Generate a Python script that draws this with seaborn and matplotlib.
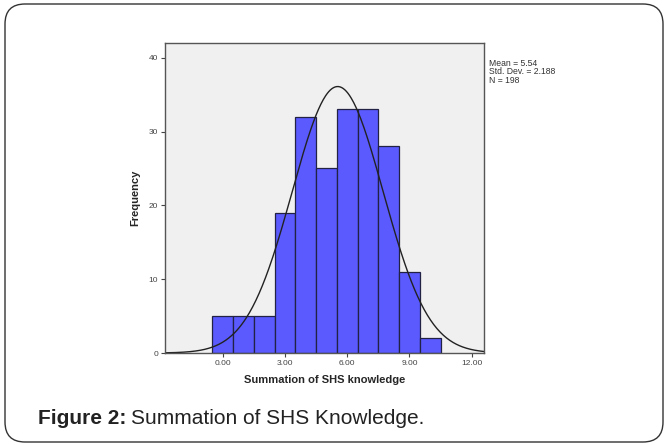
import numpy as np
import pandas as pd
import seaborn as sns
import matplotlib
matplotlib.use("Agg")
import matplotlib.pyplot as plt
from matplotlib.patches import FancyBboxPatch

# Data
scores = [0, 1, 2, 3, 4, 5, 6, 7, 8, 9, 10]
counts = [5, 5, 5, 19, 32, 25, 33, 33, 28, 11, 2]
mean_val = 5.54
sd_val = 2.188
n_val = 198
x_ticks = [0, 3, 6, 9, 12]
x_tick_labels = ["0.00", "3.00", "6.00", "9.00", "12.00"]
y_ticks = [0, 10, 20, 30, 40]

sns.set_style("white")
plt.rcParams['font.family'] = ['Liberation Sans', 'DejaVu Sans']

fig = plt.figure(figsize=(6.67, 4.45), dpi=100)
fig.patch.set_facecolor("white")

# rounded outer frame
frame = FancyBboxPatch((5 / 667, 3 / 445), 658 / 667, 438 / 445,
                       boxstyle="round,pad=0,rounding_size=0.03",
                       transform=fig.transFigure, fill=False,
                       edgecolor="#333333", linewidth=1.0,
                       mutation_aspect=667 / 445)
fig.patches.append(frame)

ax = fig.add_axes([165 / 667, 1 - 353 / 445, (484 - 165) / 667, (353 - 43) / 445])
ax.set_facecolor("#f0f0f0")

df = pd.DataFrame({"score": scores, "count": counts})
sns.histplot(data=df, x="score", weights="count", discrete=True, ax=ax,
             color="#5a5aff", alpha=1.0, edgecolor="#222244", linewidth=0.9)

# normal curve overlay
xs = np.linspace(-2.8, 12.6, 400)
ys = n_val * 1.0 / (sd_val * np.sqrt(2 * np.pi)) * np.exp(-0.5 * ((xs - mean_val) / sd_val) ** 2)
sns.lineplot(x=xs, y=ys, ax=ax, color="#222222", linewidth=1.0)

ax.set_xlim(-2.78, 12.59)
ax.set_ylim(0, 42)
ax.set_xticks(x_ticks)
ax.set_xticklabels(x_tick_labels)
ax.set_yticks(y_ticks)
ax.tick_params(axis="both", direction="out", length=3, width=0.8,
               labelsize=6, colors="#444444", pad=2, bottom=True, left=True)
for s in ax.spines.values():
    s.set_color("#555555")
    s.set_linewidth(1.0)

ax.set_xlabel("Summation of SHS knowledge", fontsize=8, fontweight="bold", labelpad=6)
ax.set_ylabel("Frequency", fontsize=8, fontweight="bold", labelpad=6)

fig.text(489 / 667, 1 - 72 / 445, f"Mean = {mean_val}\nStd. Dev. = {sd_val}\nN = {n_val}",
         fontsize=6.2, va="center", ha="left", linespacing=0.9, color="#333333")

t1 = fig.text(38 / 667, 1 - 418 / 445, "Figure 2:", fontsize=15, fontweight="bold",
              va="center", ha="left", color="#222222")
fig.canvas.draw()
bb = t1.get_window_extent(renderer=fig.canvas.get_renderer())
fig.text((bb.x1 + 5) / 667, 1 - 418 / 445, "Summation of SHS Knowledge.", fontsize=15,
         va="center", ha="left", color="#222222")

fig.savefig("out.png", dpi=100)
